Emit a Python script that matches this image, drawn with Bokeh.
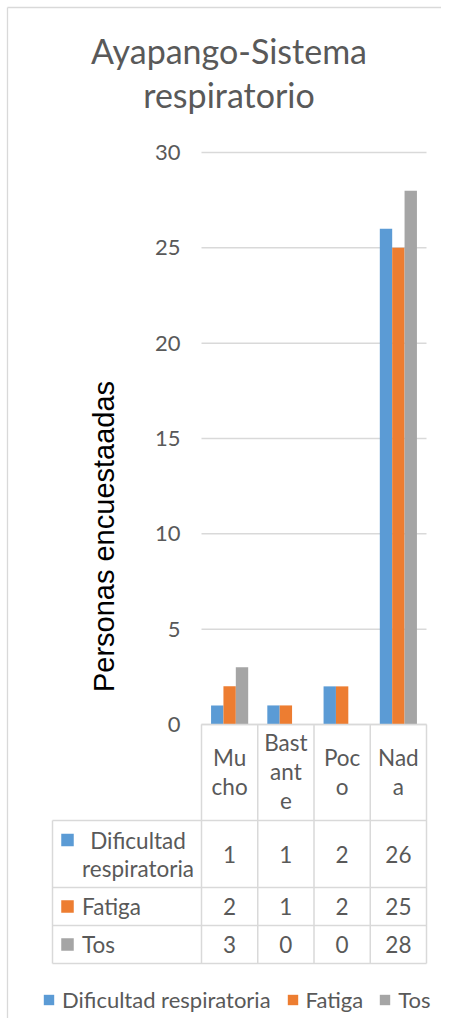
import math
from bokeh.plotting import figure
from bokeh.models import (Range1d, LinearAxis, FixedTicker, Legend, LegendItem,
                          ColumnDataSource)
from bokeh.transform import dodge
from bokeh.embed import file_html
from bokeh.resources import INLINE
from bokeh.core.properties import value

# ---------------- data ----------------
categories = ["Mucho", "Bastante", "Poco", "Nada"]
header_labels = ["Mu\ncho", "Bast\nant\ne", "Poc\no", "Nad\na"]
series = ["Dificultad respiratoria", "Fatiga", "Tos"]
row_labels = ["Dificultad\nrespiratoria", "Fatiga", "Tos"]
dificultad = [1, 1, 2, 26]
fatiga = [2, 1, 2, 25]
tos = [3, 0, 0, 28]
y_ticks = [0, 5, 10, 15, 20, 25, 30]
title_lines = ["Ayapango-Sistema", "respiratorio"]
y_label = "Personas encuestaadas"
colors = ["#5B9BD5", "#ED7D31", "#A5A5A5"]

values = [dificultad, fatiga, tos]
N = len(categories)

# ---------------- layout constants (canvas pixels) ----------------
W, H = 441, 1018
PX_L, PX_R = 201, 426      # category area, left / right
PY_T, PY_B = 152, 724      # y = max tick / y = 0
PXU = (PX_R - PX_L) / N
PYU = (PY_B - PY_T) / max(y_ticks)
HEADER_B = 820
ROW_B = [887, 925, 963]
TABLE_L = 52
TXT = "#595959"
GRIDC = "#d9d9d9"
FONT = value("Lato")
BASE = "22.5px"


def ux(px):
    return (px - PX_L) / PXU


p = figure(width=W, height=H,
           x_range=Range1d(ux(0), ux(W)),
           y_range=Range1d((PY_B - H) / PYU, PY_B / PYU),
           output_backend="svg", toolbar_location=None, min_border=0,
           x_axis_location=None, y_axis_location=None)
p.extra_y_ranges = {"px": Range1d(H, 0)}
p.grid.visible = False
p.outline_line_color = None
p.background_fill_color = "white"

# outer chart border (left / top)
p.segment(x0=[ux(7), ux(7)], y0=[7, 7], x1=[ux(7), ux(W)], y1=[H, 7],
          y_range_name="px", line_color=GRIDC, line_width=1.3)

# value axis (tick labels only)
yax = LinearAxis(fixed_location=0, ticker=FixedTicker(ticks=y_ticks),
                 major_tick_out=0, major_tick_in=0, minor_tick_out=0, minor_tick_in=0,
                 axis_line_color=None, major_label_standoff=21,
                 major_label_text_font="Lato", major_label_text_font_size="22px",
                 major_label_text_color=TXT)
p.add_layout(yax, "left")

# horizontal grid lines
p.segment(x0=[0] * len(y_ticks), x1=[N] * len(y_ticks), y0=y_ticks, y1=y_ticks,
          line_color=GRIDC, line_width=1.5)

# bars
src = ColumnDataSource(dict(cat=categories, xc=[i + 0.5 for i in range(N)],
                            d=dificultad, f=fatiga, t=tos))
bar_w = 0.22
for k, (col, c) in enumerate(zip(["d", "f", "t"], colors)):
    p.vbar(x=dodge("xc", (k - 1) * bar_w), top=col, bottom=0,
           width=bar_w, source=src, fill_color=c, line_color=None)

# title
p.text(x=[ux(228.5)] * 2, y=[50, 94], text=title_lines, y_range_name="px",
       text_align="center", text_baseline="middle",
       text_font=FONT, text_font_size="34px", text_color=TXT)

# y axis title
p.text(x=[ux(103)], y=[536], text=[y_label], y_range_name="px", angle=math.pi / 2,
       text_align="center", text_baseline="middle",
       text_font=value("Liberation Sans"), text_font_size="29px", text_color="#000000")

# ---------------- data table ----------------
edges = [HEADER_B] + ROW_B
XL = ux(TABLE_L)
x0s, y0s, x1s, y1s = [], [], [], []
for i in range(N + 1):
    x0s.append(i); x1s.append(i); y0s.append(PY_B); y1s.append(edges[-1])
x0s.append(XL); x1s.append(XL); y0s.append(edges[0]); y1s.append(edges[-1])
x0s.append(0); x1s.append(N); y0s.append(PY_B); y1s.append(PY_B)
for e in edges:
    x0s.append(XL); x1s.append(N); y0s.append(e); y1s.append(e)
p.segment(x0=x0s, y0=y0s, x1=x1s, y1=y1s, y_range_name="px",
          line_color=GRIDC, line_width=1.5)

# header texts
LINE_H = 29
hc = (PY_B + HEADER_B) / 2 - 1
hx, hy, ht = [], [], []
for i, lab in enumerate(header_labels):
    parts = lab.split("\n")
    for j, part in enumerate(parts):
        hx.append(i + 0.5)
        hy.append(hc + (j - (len(parts) - 1) / 2) * LINE_H)
        ht.append(part)
p.text(x=hx, y=hy, text=ht, y_range_name="px", text_align="center",
       text_baseline="middle", text_font=FONT, text_font_size=BASE, text_color=TXT)

# values
vx, vy, vt = [], [], []
for r, vals in enumerate(values):
    cy = (edges[r] + edges[r + 1]) / 2
    for i, v in enumerate(vals):
        vx.append(i + 0.5); vy.append(cy); vt.append(str(v))
p.text(x=vx, y=vy, text=vt, y_range_name="px", text_align="center",
       text_baseline="middle", text_font=FONT, text_font_size=BASE, text_color=TXT)

# row labels with colour keys
SQ_X = ux(67)
TXT_L = ux(81.5)
TXT_C = ux(137.5)
ROW_LINE_H = 28
legend_items = []
for r, (lab, c, name) in enumerate(zip(row_labels, colors, series)):
    parts = lab.split("\n")
    cy = (edges[r] + edges[r + 1]) / 2
    first_y = cy - (len(parts) - 1) / 2 * ROW_LINE_H
    sq = p.rect(x=[SQ_X], y=[first_y], width=12.5, height=12.5, y_range_name="px",
                width_units="screen", height_units="screen",
                fill_color=c, line_color=None)
    legend_items.append(LegendItem(label=name, renderers=[sq]))
    if len(parts) > 1:
        p.text(x=[TXT_C] * len(parts),
               y=[first_y + j * ROW_LINE_H for j in range(len(parts))], text=parts,
               y_range_name="px", text_align="center", text_baseline="middle",
               text_font=FONT, text_font_size=BASE, text_color=TXT)
    else:
        p.text(x=[TXT_L], y=[cy], text=parts, y_range_name="px", text_align="left",
               text_baseline="middle", text_font=FONT, text_font_size=BASE,
               text_color=TXT)

legend = Legend(items=legend_items, orientation="horizontal", location=(42, 5),
                glyph_width=13, glyph_height=13, label_standoff=7, spacing=15,
                padding=0, margin=0, border_line_color=None, background_fill_alpha=0,
                label_text_font="Lato", label_text_font_size="22px", label_text_color=TXT)
p.add_layout(legend)

open("out.html", "w").write(file_html(p, INLINE))
